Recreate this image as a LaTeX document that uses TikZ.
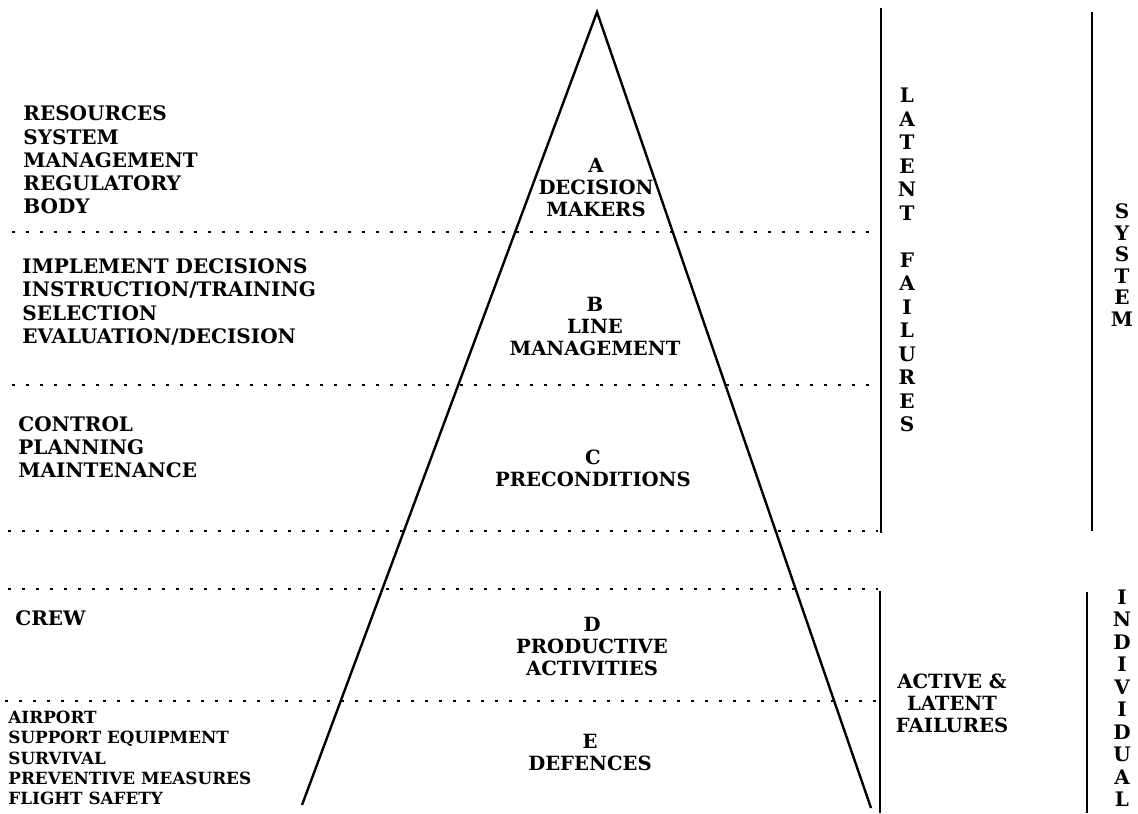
\documentclass[tikz,border=0pt]{standalone}
\usepackage{fontspec}
\setmainfont{DejaVu Serif}

\tikzstyle{Level}=[align=center,inner sep=0pt,
  font=\bfseries\fontsize{9.8}{11}\selectfont]
\tikzstyle{Causes}=[align=left,anchor=west,inner sep=0pt,
  font=\bfseries\fontsize{10}{11.6}\selectfont]
\tikzstyle{SmallCauses}=[align=left,anchor=west,inner sep=0pt,
  font=\bfseries\fontsize{8.4}{10.1}\selectfont]
\tikzstyle{Column}=[align=center,inner sep=0pt,
  font=\bfseries\fontsize{10}{11.75}\selectfont]
\tikzstyle{Boundary}=[black,line width=1.0pt]
\tikzstyle{LevelLine}=[black,line width=1.4pt,dash pattern=on 1.4pt off 5.6pt]
\tikzstyle{Pyramid}=[black,line width=1.2pt]

\begin{document}
\begin{tikzpicture}[x=0.5pt, y=-0.5pt]
		\useasboundingbox (0,0) rectangle (1138,813);
		
		% Pyramid
		\coordinate (Apex) at (597,12);
		\coordinate (BaseLeft) at (302,805);
		\coordinate (BaseRight) at (871,808);
		\draw[Pyramid] (BaseLeft) -- (Apex) -- (BaseRight);
		
		% Level boundaries
		\draw[LevelLine] (12,232) -- (878,232);
		\draw[LevelLine] (12,385) -- (878,385);
		\draw[LevelLine] (8,531) -- (878,531);
		\draw[LevelLine] (8,589) -- (878,589);
		\draw[LevelLine] (5,701) -- (878,701);
		
		% Failure and system boundaries
		\draw[Boundary] (881,8) -- (881,533);
		\draw[Boundary] (1092,12) -- (1092,531);
		\draw[Boundary] (880,591) -- (880,813);
		\draw[Boundary] (1087,592) -- (1087,813);
		
		% Levels of the pyramid
		\draw(596,187) node[Level] (LevelA) {A\\DECISION\\MAKERS};
		\draw(595,326) node[Level] (LevelB) {B\\LINE\\MANAGEMENT};
		\draw(593,468) node[Level] (LevelC) {C\\PRECONDITIONS};
		\draw(592,646) node[Level] (LevelD) {D\\PRODUCTIVE\\ACTIVITIES};
		\draw(590,752) node[Level] (LevelE) {E\\DEFENCES};
		
		% Causes on the left
		\draw(23,160) node[Causes] (CausesA)
		  {RESOURCES\\SYSTEM\\MANAGEMENT\\REGULATORY\\BODY};
		\draw(22,302) node[Causes] (CausesB)
		  {IMPLEMENT DECISIONS\\INSTRUCTION/TRAINING\\SELECTION\\EVALUATION/DECISION};
		\draw(18,447) node[Causes] (CausesC) {CONTROL\\PLANNING\\MAINTENANCE};
		\draw(15,618) node[Causes] (CausesD) {CREW};
		\draw(8,758) node[SmallCauses] (CausesE)
		  {AIRPORT\\SUPPORT EQUIPMENT\\SURVIVAL\\PREVENTIVE MEASURES\\FLIGHT SAFETY};
		
		% Failure types
		\draw(907,260) node[Column] (LatentFailures)
		  {L\\A\\T\\E\\N\\T\\~\\F\\A\\I\\L\\U\\R\\E\\S};
		\draw(952,703) node[Level] (ActiveLatent) {ACTIVE \&\\LATENT\\FAILURES};
		
		% System and individual
		\draw(1122,265) node[Column,font=\bfseries\fontsize{10}{10.75}\selectfont] (SystemCol)
		  {S\\Y\\S\\T\\E\\M};
		\draw(1122,698) node[Column,font=\bfseries\fontsize{10}{11.25}\selectfont] (IndividualCol)
		  {I\\N\\D\\I\\V\\I\\D\\U\\A\\L};
		
	\end{tikzpicture}
\end{document}
